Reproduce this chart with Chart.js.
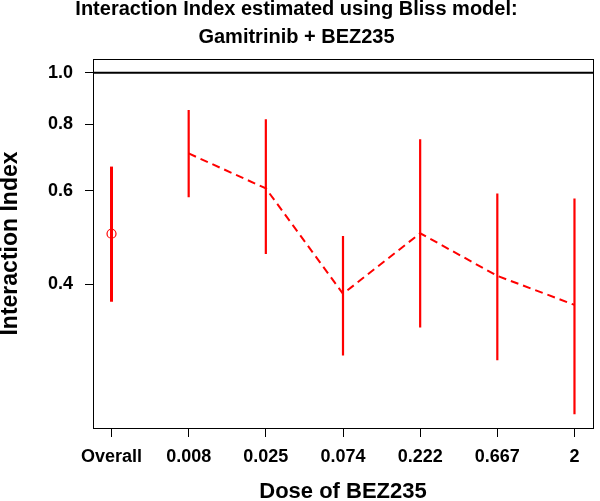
<!DOCTYPE html>
<html>
<head>
<meta charset="utf-8">
<script src="https://cdn.jsdelivr.net/npm/chart.js@4.4.1/dist/chart.umd.min.js"></script>
<style>
  body { margin: 0; background: #fff; }
  #wrap { width: 600px; height: 501px; }
</style>
</head>
<body>
<div id="wrap"><canvas id="bliss" width="600" height="501"></canvas></div>
<script>
'use strict';

// categories on the x axis (index 0 = overall estimate)
const doses = ['Overall', '0.008', '0.025', '0.074', '0.222', '0.667', '2'];
// interaction index estimates and their intervals
const estimate = [0.498, 0.705, 0.606, 0.384, 0.499, 0.415, 0.366];
const lower = [0.371, 0.583, 0.456, 0.294, 0.332, 0.288, 0.228];
const upper = [0.666, 0.851, 0.817, 0.493, 0.750, 0.593, 0.580];
const yTicks = [0.4, 0.6, 0.8, 1.0];
const refLine = 1.0;

const xMin = -0.24, xMax = 6.24;
const yMin = 0.2148, yMax = 1.061;

const red = '#ff0000';
const fontFamily = "'Liberation Sans', Arial, Helvetica, sans-serif";

// vertical bars for the dose points, broken by nulls
const doseBars = [];
for (let i = 1; i < doses.length; i++) {
    doseBars.push({x: i, y: lower[i]}, {x: i, y: upper[i]}, {x: i, y: null});
}
const overallBar = [{x: 0, y: lower[0]}, {x: 0, y: upper[0]}];
const doseLine = [];
for (let i = 1; i < doses.length; i++) {
    doseLine.push({x: i, y: estimate[i]});
}

/*marco del gráfico*/
const frame = {
    id: 'frame',
    afterDraw(chart) {
        const {ctx, chartArea: a} = chart;
        ctx.save();
        ctx.strokeStyle = '#000';
        ctx.lineWidth = 1;
        ctx.strokeRect(Math.round(a.left) + 0.5, Math.round(a.top) + 0.5,
            Math.round(a.right - a.left), Math.round(a.bottom - a.top));
        ctx.restore();
    }
};

new Chart(document.getElementById('bliss'), {
    type: 'line',
    data: {
        datasets: [
            {
                data: [{x: 0, y: estimate[0]}],
                showLine: false,
                pointRadius: 4.5,
                pointBorderWidth: 1.2,
                pointBorderColor: red,
                pointBackgroundColor: 'rgba(0,0,0,0)'
            },
            {
                data: doseLine,
                borderColor: red,
                borderWidth: 2,
                borderDash: [8, 5],
                pointRadius: 0
            },
            {
                data: overallBar,
                borderColor: red,
                borderWidth: 3,
                pointRadius: 0
            },
            {
                data: doseBars,
                borderColor: red,
                borderWidth: 2.2,
                pointRadius: 0,
                spanGaps: false
            },
            {
                data: [{x: xMin, y: refLine}, {x: xMax, y: refLine}],
                borderColor: '#000',
                borderWidth: 2,
                pointRadius: 0
            }
        ]
    },
    options: {
        responsive: false,
        animation: false,
        devicePixelRatio: 1,
        layout: {padding: {left: 0, right: 7, top: 0, bottom: 0}},
        plugins: {
            legend: {display: false},
            tooltip: {enabled: false},
            title: {
                display: true,
                text: ['Interaction Index estimated using Bliss model:', 'Gamitrinib + BEZ235'],
                color: '#000',
                font: {family: fontFamily, size: 20, weight: 'bold', lineHeight: 1.375},
                padding: {top: -4, bottom: 8}
            }
        },
        scales: {
            x: {
                type: 'linear',
                min: xMin,
                max: xMax,
                bounds: 'data',
                afterBuildTicks(scale) {
                    scale.ticks = doses.map((d, i) => ({value: i}));
                    scale.min = xMin;
                    scale.max = xMax;
                },
                afterFit(scale) { scale.height = 73; },
                ticks: {
                    autoSkip: false,
                    maxRotation: 0,
                    padding: 9,
                    color: '#000',
                    font: {family: fontFamily, size: 18, weight: 'bold'},
                    callback: v => doses[v]
                },
                grid: {drawOnChartArea: false, tickLength: 9, tickColor: '#000'},
                border: {display: false},
                title: {
                    display: true,
                    text: 'Dose of BEZ235',
                    color: '#000',
                    font: {family: fontFamily, size: 22, weight: 'bold', lineHeight: 0.8},
                    padding: 0
                }
            },
            y: {
                type: 'logarithmic',
                min: yMin,
                max: yMax,
                bounds: 'data',
                afterBuildTicks(scale) {
                    scale.ticks = yTicks.map(v => ({value: v}));
                    scale.min = yMin;
                    scale.max = yMax;
                },
                afterFit(scale) { scale.width = 93; },
                ticks: {
                    padding: 12,
                    color: '#000',
                    font: {family: fontFamily, size: 18, weight: 'bold'},
                    callback: v => Number(v).toFixed(1)
                },
                grid: {drawOnChartArea: false, tickLength: 8, tickColor: '#000'},
                border: {display: false},
                title: {
                    display: true,
                    text: 'Interaction Index',
                    color: '#000',
                    font: {family: fontFamily, size: 23, weight: 'bold', lineHeight: 0.8},
                    padding: {top: 1, bottom: 0}
                }
            }
        }
    },
    plugins: [frame]
});
</script>
</body>
</html>
